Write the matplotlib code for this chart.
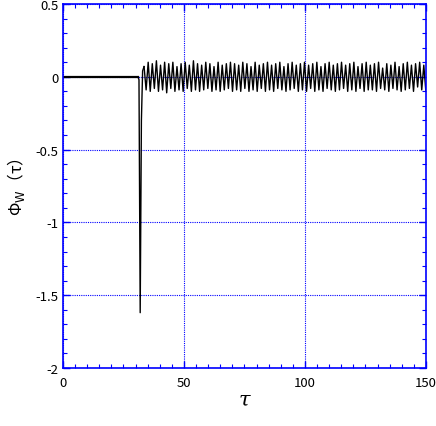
import numpy as np
import matplotlib
matplotlib.use("Agg")
import matplotlib.pyplot as plt
from matplotlib.ticker import MultipleLocator

# --- data ---
tau_pre = [0.0, 31.0, 31.4, 31.9, 32.4, 32.9]
phi_pre = [0.0, 0.0, -0.02, -1.62, -0.30, 0.04]

phi_osc = [0.07, -0.09, 0.10, -0.10, 0.09, -0.08, 0.11, -0.10, 0.08, -0.09,
           0.10, -0.11, 0.09, -0.08, 0.10, -0.10, 0.07, -0.09, 0.09, -0.10,
           0.10, -0.08, 0.08, -0.10, 0.11, -0.09, 0.09, -0.10, 0.08, -0.09,
           0.10, -0.08, 0.09, -0.10, 0.07, -0.09, 0.10, -0.10, 0.08, -0.09,
           0.09, -0.08, 0.10, -0.10, 0.09, -0.09, 0.08, -0.10, 0.10, -0.08,
           0.09, -0.10, 0.07, -0.09, 0.10, -0.10, 0.08, -0.08, 0.09, -0.10,
           0.10, -0.09, 0.08, -0.10, 0.09, -0.08, 0.10, -0.09, 0.07, -0.10,
           0.09, -0.09, 0.10, -0.08, 0.08, -0.10, 0.09, -0.09, 0.10, -0.10,
           0.08, -0.08, 0.09, -0.10, 0.10, -0.09, 0.07, -0.10, 0.09, -0.08,
           0.10, -0.09, 0.08, -0.10, 0.09, -0.09, 0.10, -0.08, 0.08, -0.10,
           0.09, -0.09, 0.10, -0.10, 0.07, -0.08, 0.09, -0.10, 0.10, -0.09,
           0.08, -0.09, 0.09, -0.10, 0.10, -0.08, 0.06, -0.09, 0.09, -0.10,
           0.08, -0.08, 0.10, -0.09, 0.07, -0.10, 0.09, -0.09, 0.10, -0.08,
           0.08, -0.10, 0.09, -0.07, 0.10, -0.09, 0.08, -0.10]
tau_osc_start = 33.5
tau_osc_step = 0.85

x_ticks = [0, 50, 100, 150]
y_ticks = [-2, -1.5, -1, -0.5, 0, 0.5]
y_ticklabels = ["-2", "-1.5", "-1", "-0.5", "0", "0.5"]

tau_osc = tau_osc_start + tau_osc_step * np.arange(len(phi_osc))

plt.rcParams['font.family'] = ['Noto Sans CJK JP', 'DejaVu Sans']

fig = plt.figure(figsize=(4.36, 4.27), dpi=100)
ax = fig.add_axes([0.1445, 0.1358, 0.8325, 0.8525])

ax.plot(tau_pre[:2], phi_pre[:2], color='black', lw=1.6)
ax.plot(tau_pre[1:] + [tau_osc[0]], phi_pre[1:] + [phi_osc[0]], color='black', lw=1.0)
ax.plot(tau_osc, phi_osc, color='black', lw=1.0)

ax.set_xlim(0, 150)
ax.set_ylim(-2, 0.5)
ax.set_xticks(x_ticks)
ax.set_yticks(y_ticks)
ax.set_yticklabels(y_ticklabels)
ax.xaxis.set_minor_locator(MultipleLocator(5))
ax.yaxis.set_minor_locator(MultipleLocator(0.1))

ax.grid(True, which='major', color='blue', linestyle=(0, (1, 1)), lw=0.8)
ax.set_axisbelow(True)

for s in ax.spines.values():
    s.set_color('blue')
    s.set_linewidth(1.2)

ax.tick_params(which='both', direction='in', top=True, right=True, color='blue',
               labelsize=9.5, labelcolor='black')
ax.tick_params(which='major', length=5, width=1)
ax.tick_params(which='minor', length=3, width=0.8)
ax.tick_params(axis='x', pad=6)

ax.set_xlabel('τ', fontsize=15, style='italic', family='DejaVu Serif', labelpad=0)
ax.set_ylabel('Φ$_{\\mathrm{W}}$（τ）', fontsize=12, labelpad=6)

fig.savefig('out.png', dpi=100)
